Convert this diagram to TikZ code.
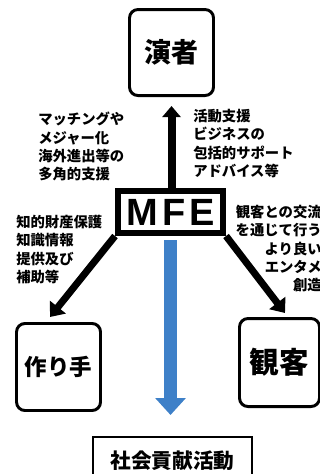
\documentclass[tikz,border=0pt]{standalone}
\usepackage{fontspec}
\setmainfont{Liberation Sans}
\newfontfamily\jp{Noto Sans CJK JP}
\usetikzlibrary{arrows.meta}

\definecolor{flowblue}{RGB}{62,128,200}
\tikzset{
  card/.style={draw,rounded corners=6pt,line width=2.1pt,inner sep=0pt,
    minimum width=2.100cm,minimum height=2.150cm},
  hub/.style={draw,line width=4.3pt,inner sep=0pt,
    minimum width=2.625cm,minimum height=1.050cm,font=\bfseries\fontsize{27}{27}\selectfont},
  goal/.style={draw,line width=1.1pt,inner sep=0pt,
    minimum width=3.975cm,minimum height=1.200cm,font=\jp\bfseries\fontsize{14.7}{15}\selectfont},
  notes/.style={inner sep=0pt,font=\jp\bfseries\fontsize{10.2}{13}\selectfont},
  link/.style={line width=5pt,-{Triangle[width=14pt,length=9pt]}},
}

\begin{document}
\begin{tikzpicture}
\useasboundingbox (0,0) rectangle (8.000,-11.850);
\clip (0,0) rectangle (8.000,-11.850);
% boxes
\node[card,font=\jp\bfseries\fontsize{19.2}{20}\selectfont] (performer) at (4.288,-1.313) {演者};
\node[hub] (mfe) at (4.263,-5.300) {M\kern3pt F\kern3pt E};
\node[card,minimum height=2.175cm,font=\jp\bfseries\fontsize{16}{17}\selectfont] (creator) at (1.463,-9.175) {作り手};
\node[card,minimum width=2.000cm,minimum height=2.200cm,font=\jp\bfseries\fontsize{21}{22}\selectfont] (audience) at (6.988,-9.063) {観客};
\node[goal] (social) at (4.313,-11.525) {社会貢献活動};
% texts
\node[notes,anchor=north west,align=left] (noteA) at (0.950,-2.800) {マッチングや\\メジャー化\\海外進出等の\\多角的支援};
\node[notes,anchor=north west,align=left] (noteB) at (4.825,-2.725) {活動支援\\ビジネスの\\包括的サポート\\アドバイス等};
\node[notes,anchor=north west,align=left] (noteC) at (0.400,-5.375) {知的財産保護\\知識情報\\提供及び\\補助等};
\node[notes,anchor=north east,align=right] (noteD) at (8.050,-5.125) {観客との交流\\を通じて行う\\より良い\\エンタメ\\創造};
% arrows
\coordinate (tipL) at (1.250,-7.925);
\coordinate (tipR) at (7.125,-7.825);
\coordinate (tipB) at (4.263,-10.375);
\draw[line width=5.7pt,-{Triangle[width=13pt,length=8pt]},shorten >=0.225cm] (performer.south |- mfe.north) -- (performer.south);
\draw[link] (mfe.south west) -- (tipL);
\draw[link] (mfe.south east) -- (tipR);
\draw[flowblue,line width=9.2pt,-{Triangle[width=21pt,length=12pt]},shorten <=0.100cm] (mfe.south) -- (tipB);
\end{tikzpicture}
\end{document}
